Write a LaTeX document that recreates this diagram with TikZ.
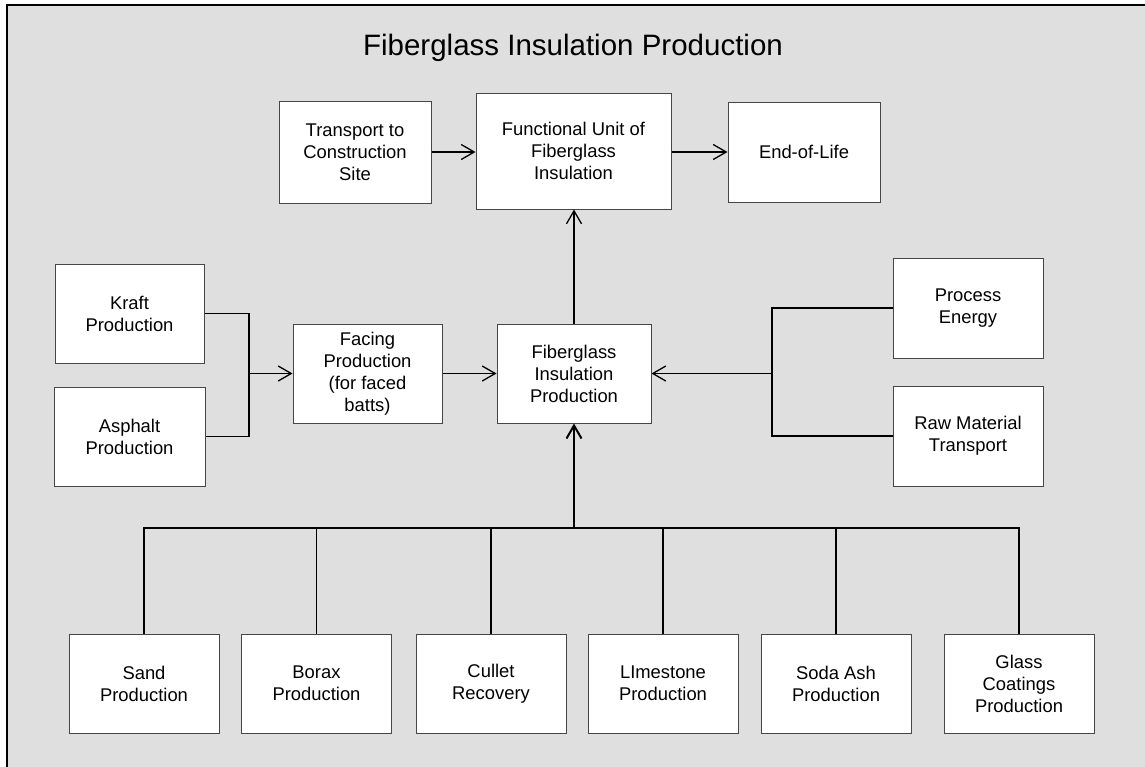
\documentclass[tikz,border=0pt]{standalone}
\usepackage{fontspec}
\setmainfont{Liberation Sans}
\usetikzlibrary{arrows.meta}
\definecolor{bg}{RGB}{223,223,223}
\definecolor{bord}{RGB}{70,70,70}
\begin{document}
\begin{tikzpicture}[x=1pt,y=-1pt,
 box/.style={draw=bord,line width=1pt,fill=white,inner sep=0pt,minimum width=150pt,minimum height=99pt,align=center,font=\fontsize{18.4}{22}\selectfont},
 conn/.style={line width=1.3pt,black},
 arr/.style={conn,-{Straight Barb[length=13pt,width=15pt,line width=1.3pt]}},
 thickarr/.style={line width=2.5pt,black,-{Straight Barb[length=13pt,width=15pt,line width=2pt]}}]
\useasboundingbox (0,0) rectangle (1145,766);
\fill[white] (0,0) rectangle (1145,766);
\draw[fill=bg,line width=2.5pt] (7,5) rectangle (1165,785);

\node[anchor=base,font=\fontsize{29.5}{33}\selectfont] (title) at (573,55) {Fiberglass Insulation Production};

\node[box,minimum width=152pt,minimum height=102pt] (tr) at (355,152) {Transport to\\Construction\\Site};
\node[box,minimum width=195pt,minimum height=116pt] (fu) at (573.5,151) {Functional Unit of\\Fiberglass\\Insulation};
\node[box,minimum width=152pt,minimum height=100pt] (eol) at (804,152) {End-of-Life};

\node[box,minimum width=149pt] (kraft) at (129.5,313.5) {Kraft\\Production};
\node[box,minimum width=151pt] (asph) at (129.5,436.5) {Asphalt\\Production};
\node[box,minimum width=149pt] (fac) at (367.5,373.5) {Facing\\Production\\(for faced\\batts)};
\node[box,minimum width=154pt] (fip) at (574,373.5) {Fiberglass\\Insulation\\Production};
\node[box,minimum height=100pt] (pe) at (968,308) {Process\\Energy};
\node[box,minimum height=100pt] (rmt) at (968,436) {Raw Material\\Transport};

\node[box] (sand) at (144,683.5) {Sand\\Production};
\node[box] (borax) at (316.5,683.5) {Borax\\Production};
\node[box] (cullet) at (491,683.5) {Cullet\\Recovery};
\node[box] (lime) at (663,683.5) {LImestone\\Production};
\node[box] (soda) at (836,683.5) {Soda Ash\\Production};
\node[box] (glass) at (1019,683.5) {Glass\\Coatings\\Production};

\draw[arr] (tr.east) -- (tr.east -| fu.west);
\draw[arr] (fu.east |- tr.east) -- (tr.east -| eol.west);
\draw[arr] (fip.north) -- (fip.north |- fu.south);

\coordinate (lj) at (249,373.5);
\draw[conn] (kraft.east) -| (lj) |- (asph.east);
\draw[arr] (lj) -- (fac.west);
\draw[arr] (fac.east) -- (fip.west);

\coordinate (rj) at (772,373.5);
\draw[conn] (pe.west) -| (rj) |- (rmt.west);
\draw[arr] (rj) -- (fip.east);

\coordinate (bj) at (574,528);
\draw[conn] (sand.north) -- (sand.north |- bj) -- (glass.north |- bj) -- (glass.north);
\foreach \n in {borax,cullet,lime,soda} \draw[conn] (\n.north) -- (\n.north |- bj);
\draw[thickarr] (bj) -- (fip.south);
\end{tikzpicture}
\end{document}
